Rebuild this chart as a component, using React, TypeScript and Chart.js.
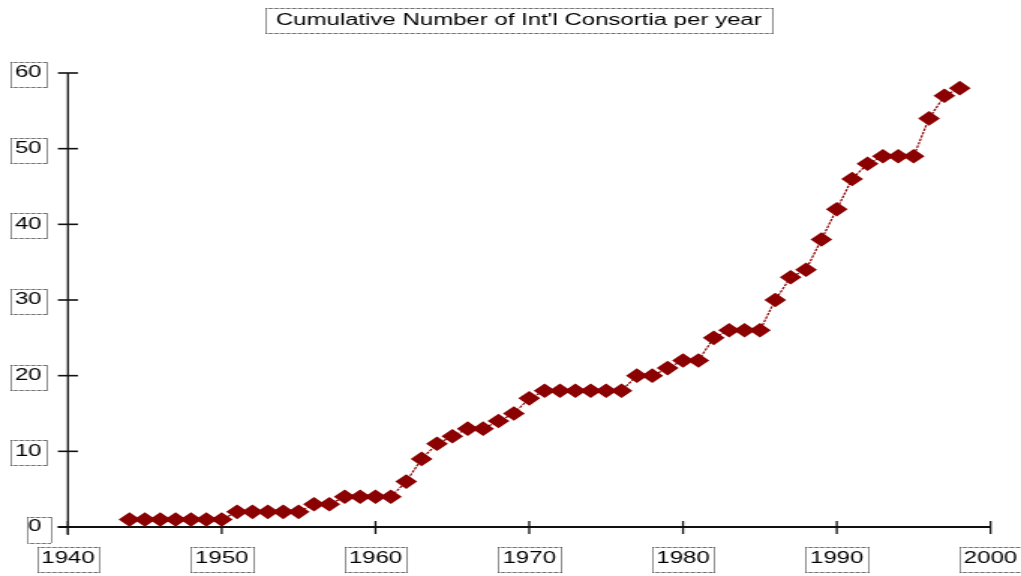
import React, { useEffect, useRef } from 'react';
import { Chart, registerables } from 'chart.js';

Chart.register(...registerables);

// ---- data ----
const years: number[] = [
  1944, 1945, 1946, 1947, 1948, 1949, 1950,
  1951, 1952, 1953, 1954, 1955, 1956, 1957, 1958, 1959, 1960,
  1961, 1962, 1963, 1964, 1965, 1966, 1967, 1968, 1969, 1970,
  1971, 1972, 1973, 1974, 1975, 1976, 1977, 1978, 1979, 1980,
  1981, 1982, 1983, 1984, 1985, 1986, 1987, 1988, 1989, 1990,
  1991, 1992, 1993, 1994, 1995, 1996, 1997, 1998,
];
const cumulativeConsortia: number[] = [
  1, 1, 1, 1, 1, 1, 1,
  2, 2, 2, 2, 2, 3, 3, 4, 4, 4,
  4, 6, 9, 11, 12, 13, 13, 14, 15, 17,
  18, 18, 18, 18, 18, 18, 20, 20, 21, 22,
  22, 25, 26, 26, 26, 30, 33, 34, 38, 42,
  46, 48, 49, 49, 49, 54, 57, 58,
];
const xTickValues: number[] = [1940, 1950, 1960, 1970, 1980, 1990, 2000];
const yTickValues: number[] = [0, 10, 20, 30, 40, 50, 60];
const TITLE = "Cumulative Number of Int'l Consortia per year";

// ---- layout (canvas drawn at 681px wide, displayed stretched to 1021px) ----
const INNER_W = 681;
const INNER_H = 576;
const FONT = "'Liberation Sans', Arial, sans-serif";
const FONT_SIZE = 16;
const LINE_COLOR = '#8b0000';

function dottedRect(ctx: CanvasRenderingContext2D, x: number, y: number, w: number, h: number) {
  ctx.save();
  ctx.strokeStyle = '#222';
  ctx.lineWidth = 1;
  const x0 = Math.round(x) + 0.5;
  const y0 = Math.round(y) + 0.5;
  const x1 = Math.round(x + w) + 0.5;
  const y1 = Math.round(y + h) + 0.5;
  // horizontal edges (stretched 1.5x on screen)
  ctx.setLineDash([0.67, 0.67]);
  ctx.beginPath();
  ctx.moveTo(x0, y0);
  ctx.lineTo(x1, y0);
  ctx.moveTo(x0, y1);
  ctx.lineTo(x1, y1);
  ctx.stroke();
  // vertical edges
  ctx.setLineDash([1, 1]);
  ctx.beginPath();
  ctx.moveTo(x0, y0);
  ctx.lineTo(x0, y1);
  ctx.moveTo(x1, y0);
  ctx.lineTo(x1, y1);
  ctx.stroke();
  ctx.restore();
}

const decorPlugin = {
  id: 'decor',
  beforeDatasetsDraw(chart: any) {
    const { ctx, chartArea } = chart;
    const xs = chart.scales.x;
    const ys = chart.scales.y;
    ctx.save();
    ctx.strokeStyle = '#111';
    // y axis
    ctx.lineWidth = 1.3;
    ctx.beginPath();
    ctx.moveTo(chartArea.left, chartArea.top);
    ctx.lineTo(chartArea.left, chartArea.bottom + 8);
    ctx.stroke();
    // x axis
    ctx.lineWidth = 2;
    ctx.beginPath();
    ctx.moveTo(chartArea.left - 6.7, chartArea.bottom);
    ctx.lineTo(chartArea.right, chartArea.bottom);
    ctx.stroke();
    // y ticks (crossing)
    ctx.lineWidth = 1.6;
    for (const v of yTickValues) {
      const py = ys.getPixelForValue(v);
      ctx.beginPath();
      ctx.moveTo(chartArea.left - 6.7, py);
      ctx.lineTo(chartArea.left + 6.7, py);
      ctx.stroke();
    }
    // x ticks (crossing)
    ctx.lineWidth = 1.3;
    for (const v of xTickValues) {
      const px = xs.getPixelForValue(v);
      ctx.beginPath();
      ctx.moveTo(px, chartArea.bottom - 6);
      ctx.lineTo(px, chartArea.bottom + 7);
      ctx.stroke();
    }
    ctx.restore();
  },
  afterDraw(chart: any) {
    const { ctx, chartArea } = chart;
    const xs = chart.scales.x;
    const ys = chart.scales.y;
    ctx.save();
    ctx.font = `${FONT_SIZE}px ${FONT}`;
    // title
    ctx.fillStyle = '#000';
    ctx.textAlign = 'center';
    ctx.textBaseline = 'middle';
    const titleX = 346;
    const titleY = 20.5;
    ctx.fillText(TITLE, titleX, titleY);
    const tw = ctx.measureText(TITLE).width;
    dottedRect(ctx, titleX - tw / 2 - 6.5, 8, tw + 13, 25);
    // y label boxes
    for (const v of yTickValues) {
      const label = String(v);
      const w = ctx.measureText(label).width;
      const right = chartArea.left - 17.6;
      const py = ys.getPixelForValue(v);
      if (label.length === 1) {
        dottedRect(ctx, right - w - 1, py - 10, w + 7, 26);
      } else {
        dottedRect(ctx, right - w - 3, py - 11, w + 6, 25);
      }
    }
    // x label boxes
    for (const v of xTickValues) {
      const label = String(v);
      const w = ctx.measureText(label).width;
      const px = xs.getPixelForValue(v);
      dottedRect(ctx, px - w / 2 - 3, 547, w + 6, 25);
    }
    ctx.restore();
  },
};

export default function App() {
  const canvasRef = useRef<HTMLCanvasElement | null>(null);

  useEffect(() => {
    document.body.style.margin = '0';
    const canvas = canvasRef.current;
    if (!canvas) return;
    const points = years.map((yr, i) => ({ x: yr, y: cumulativeConsortia[i] }));
    const chart = new Chart(canvas, {
      type: 'line',
      data: {
        datasets: [
          {
            data: points,
            borderColor: LINE_COLOR,
            borderWidth: 1.2,
            borderDash: [2.5, 1],
            backgroundColor: LINE_COLOR,
            pointStyle: 'rectRot',
            pointRadius: 7.3,
            pointBorderWidth: 0,
            pointBackgroundColor: LINE_COLOR,
            pointBorderColor: LINE_COLOR,
            tension: 0,
            fill: false,
          },
        ],
      },
      options: {
        responsive: false,
        animation: false,
        devicePixelRatio: 1,
        events: [],
        layout: { padding: { left: 0, right: INNER_W - 660.67, top: 73, bottom: 0 } },
        plugins: {
          legend: { display: false },
          tooltip: { enabled: false },
          title: { display: false },
        },
        scales: {
          x: {
            type: 'linear',
            min: 1940,
            max: 2000,
            grid: { display: false, drawTicks: false },
            border: { display: false },
            ticks: {
              stepSize: 10,
              padding: 22,
              color: '#000',
              maxRotation: 0,
              autoSkip: false,
              font: { family: FONT, size: FONT_SIZE, lineHeight: 1.2 },
              callback: (v: any) => String(v),
            },
            afterFit: (s: any) => {
              s.height = 49;
              s.paddingLeft = 0;
              s.paddingRight = 0;
            },
          },
          y: {
            type: 'linear',
            min: 0,
            max: 60,
            grid: { display: false, drawTicks: false },
            border: { display: false },
            ticks: {
              stepSize: 10,
              padding: 17.6,
              color: '#000',
              font: { family: FONT, size: FONT_SIZE, lineHeight: 1.2 },
              callback: (v: any) => String(v),
            },
            afterFit: (s: any) => {
              s.width = 45.33;
              s.paddingTop = 0;
              s.paddingBottom = 0;
            },
          },
        },
      },
      plugins: [decorPlugin],
    });
    return () => chart.destroy();
  }, []);

  return (
    <div style={{ position: 'absolute', left: 0, top: 0, width: 1021, height: 576, background: '#fff' }}>
      <canvas
        ref={canvasRef}
        width={INNER_W}
        height={INNER_H}
        style={{ display: 'block', width: '1021px', height: '576px' }}
      />
    </div>
  );
}
